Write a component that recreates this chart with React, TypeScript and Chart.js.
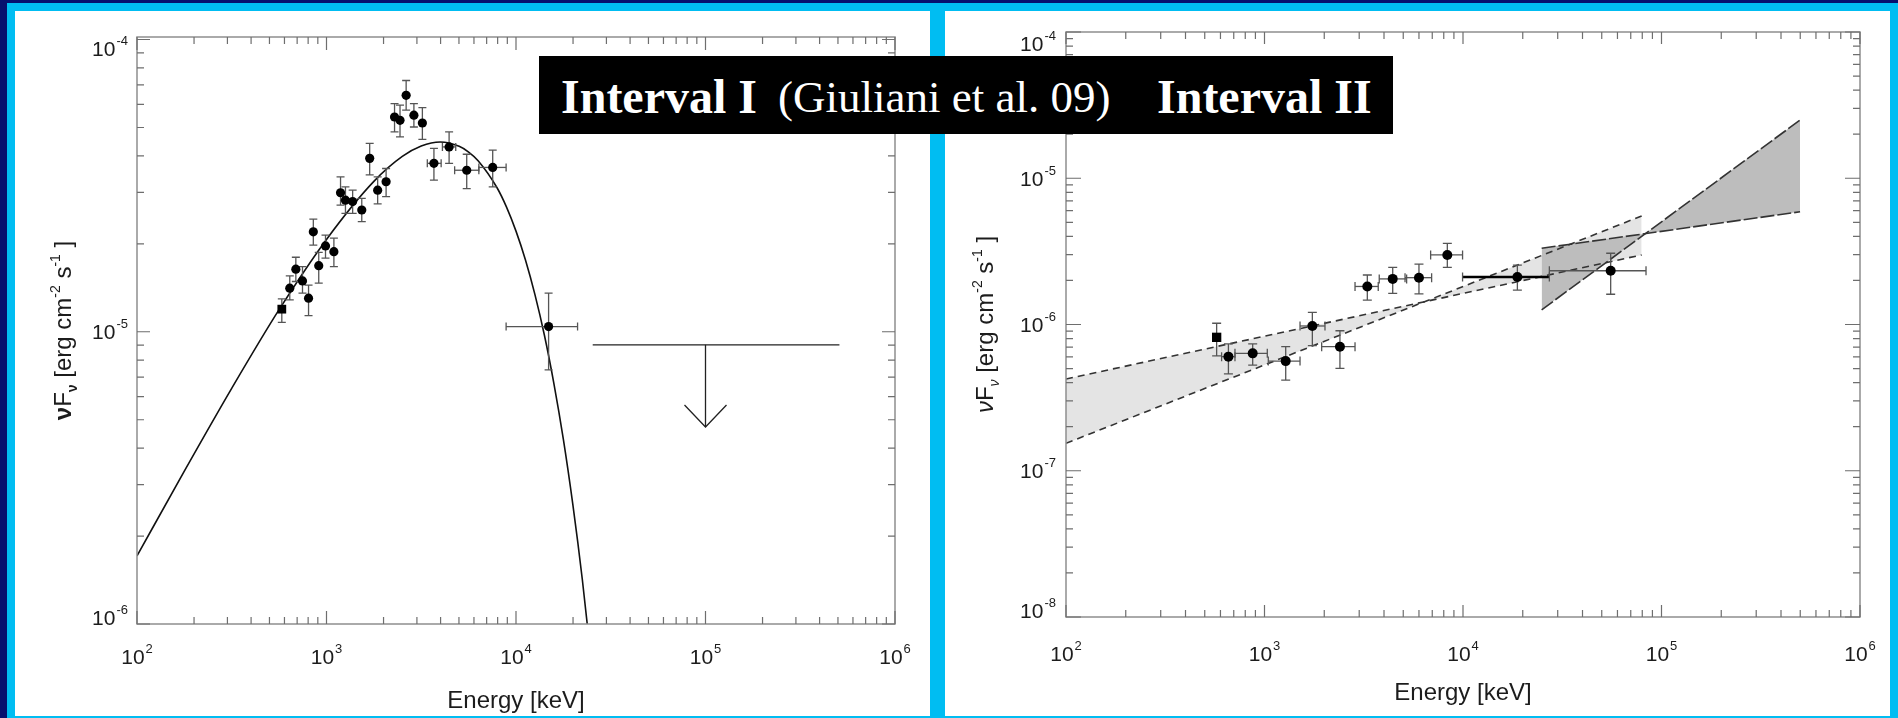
import React, { useEffect, useRef } from 'react';
import { Chart, registerables } from 'chart.js';

Chart.register(...registerables);

// ---------------- Interval I (left panel) ----------------
const leftEnergy = [581, 640, 689, 747, 804, 852, 910, 988, 1094, 1186, 1259, 1374, 1535, 1690, 1862, 2063, 2286, 2443, 2632, 2892, 3206, 3689, 4436, 5495, 7535, 14860];
const leftFlux = [1.195e-5, 1.41e-5, 1.637e-5, 1.493e-5, 1.303e-5, 2.198e-5, 1.683e-5, 1.966e-5, 1.879e-5, 2.99e-5, 2.82e-5, 2.79e-5, 2.61e-5, 3.92e-5, 3.05e-5, 3.26e-5, 5.43e-5, 5.29e-5, 6.44e-5, 5.51e-5, 5.18e-5, 3.77e-5, 4.29e-5, 3.57e-5, 3.65e-5, 1.042e-5];
const leftFluxHi = [1.296e-5, 1.553e-5, 1.799e-5, 1.671e-5, 1.445e-5, 2.43e-5, 1.87e-5, 2.14e-5, 2.09e-5, 3.39e-5, 3.13e-5, 3.05e-5, 2.86e-5, 4.41e-5, 3.39e-5, 3.62e-5, 6.03e-5, 5.96e-5, 7.24e-5, 6.03e-5, 5.85e-5, 4.24e-5, 4.83e-5, 4.05e-5, 4.18e-5, 1.355e-5];
const leftFluxLo = [1.076e-5, 1.286e-5, 1.486e-5, 1.355e-5, 1.135e-5, 1.98e-5, 1.466e-5, 1.787e-5, 1.671e-5, 2.71e-5, 2.54e-5, 2.54e-5, 2.38e-5, 3.44e-5, 2.74e-5, 2.9e-5, 4.83e-5, 4.64e-5, 5.73e-5, 5.02e-5, 4.55e-5, 3.3e-5, 3.77e-5, 3.09e-5, 3.13e-5, 7.41e-6];
const leftEnergyLo = [null, null, null, null, null, null, null, null, null, null, null, null, null, null, null, null, null, null, null, null, null, 3404, 4090, 4745, 6368, 8868];
const leftEnergyHi = [null, null, null, null, null, null, null, null, null, null, null, null, null, null, null, null, null, null, null, null, null, 4027, 4808, 6368, 8868, 21130];

// fitted model curve
const modelEnergy = [100, 178, 316, 562, 1000, 1778, 2512, 3162, 3981, 5012, 5623, 6310, 7943, 8913, 10000, 11220, 12589, 14125, 15849, 17783, 19953, 22387, 25119];
const modelFlux = [1.71e-6, 3.34e-6, 6.4e-6, 1.19e-5, 2.07e-5, 3.27e-5, 3.98e-5, 4.32e-5, 4.46e-5, 4.31e-5, 4.12e-5, 3.85e-5, 3.11e-5, 2.67e-5, 2.21e-5, 1.76e-5, 1.34e-5, 9.73e-6, 6.65e-6, 4.28e-6, 2.56e-6, 1.42e-6, 7.18e-7];

// upper limit
const ulEnergy = [25400, 509000];
const ulFlux = [9.02e-6, 9.02e-6];
const arrowEnergy = [1e5, 1e5];
const arrowFlux = [9.02e-6, 4.72e-6];

// ---------------- Interval II (right panel) ----------------
const rightEnergy = [574, 658, 872, 1279, 1742, 2399, 3296, 4425, 6000, 8337, 18790, 55460];
const rightFlux = [8.17e-7, 6.03e-7, 6.35e-7, 5.62e-7, 9.77e-7, 7.05e-7, 1.82e-6, 2.05e-6, 2.09e-6, 2.99e-6, 2.11e-6, 2.33e-6];
const rightFluxHi = [1.02e-6, 7.36e-7, 7.36e-7, 7.05e-7, 1.21e-6, 9.06e-7, 2.18e-6, 2.46e-6, 2.59e-6, 3.59e-6, 2.55e-6, 3.07e-6];
const rightFluxLo = [6.1e-7, 4.59e-7, 5.28e-7, 4.17e-7, 7.16e-7, 5.01e-7, 1.47e-6, 1.63e-6, 1.62e-6, 2.46e-6, 1.72e-6, 1.61e-6];
const rightEnergyLo = [null, 608, 710, 1045, 1510, 1941, 2858, 3785, 5105, 6870, 9950, 27230];
const rightEnergyHi = [null, 710, 1033, 1510, 2017, 2858, 3741, 5200, 6950, 9950, 27230, 83560];

// butterfly (bow-tie) envelopes
const lightEnergy = [100, 79430];
const lightFluxA = [4.24e-7, 2.99e-6];
const lightFluxB = [1.54e-7, 5.52e-6];
const darkEnergy = [24900, 499000];
const darkFluxC = [1.26e-6, 2.5e-5];
const darkFluxD = [3.32e-6, 5.9e-6];

// ---------------- axes ----------------
const xTickValues = [1e2, 1e3, 1e4, 1e5, 1e6];
const xTickExps = ['2', '3', '4', '5', '6'];
const leftYTickValues = [1e-6, 1e-5, 1e-4];
const leftYTickExps = ['-6', '-5', '-4'];
const rightYTickValues = [1e-8, 1e-7, 1e-6, 1e-5, 1e-4];
const rightYTickExps = ['-8', '-7', '-6', '-5', '-4'];
const xAxisTitle = 'Energy [keV]';

const SANS = '"Liberation Sans", Arial, Helvetica, sans-serif';

function minorTicks(lo: number, hi: number) {
  const out: number[] = [];
  for (let d = lo; d < hi; d++) for (let m = 2; m <= 9; m++) out.push(m * Math.pow(10, d));
  return out;
}

function pts(xs: number[], ys: number[]) {
  return xs.map((x, i) => ({ x, y: ys[i] }));
}

function drawPow(ctx: any, exp: string, x: number, y: number, anchor: string, size: number, esize: number) {
  ctx.font = `${size}px ${SANS}`;
  const wb = ctx.measureText('10').width;
  ctx.font = `${esize}px ${SANS}`;
  const we = ctx.measureText(exp).width;
  const total = wb + we + 1;
  const left = anchor === 'center' ? x - total / 2 : x - total;
  ctx.textAlign = 'left';
  ctx.textBaseline = 'alphabetic';
  ctx.font = `${size}px ${SANS}`;
  ctx.fillText('10', left, y);
  ctx.font = `${esize}px ${SANS}`;
  ctx.fillText(exp, left + wb + 1, y - size * 0.52);
}

function drawRich(ctx: any, pieces: any[], size: number, small: number) {
  const fontOf = (p: any) => `${p.style === 'bold' ? 'bold ' : p.style === 'italic' ? 'italic ' : ''}${p.shift ? small : size}px ${SANS}`;
  let total = 0;
  const widths = pieces.map((p) => {
    ctx.font = fontOf(p);
    const w = ctx.measureText(p.text).width;
    total += w;
    return w;
  });
  let x = -total / 2;
  const base = size * 0.36;
  ctx.textAlign = 'left';
  ctx.textBaseline = 'alphabetic';
  pieces.forEach((p, i) => {
    ctx.font = fontOf(p);
    const dy = p.shift === 'sup' ? -size * 0.45 : p.shift === 'sub' ? size * 0.25 : 0;
    ctx.fillText(p.text, x, base + dy);
    x += widths[i];
  });
}

function makeDecor(spec: any) {
  return {
    id: 'decor',
    beforeDatasetDraw(chart: any, args: any) {
      if (args.index !== spec.pointsIndex) return;
      const { ctx, chartArea: a } = chart;
      const xs = chart.scales.x;
      const ys = chart.scales.y;
      const c = spec.capHalf;
      ctx.save();
      ctx.beginPath();
      ctx.rect(a.left, a.top, a.right - a.left, a.bottom - a.top);
      ctx.clip();
      for (let i = 0; i < spec.energy.length; i++) {
        const px = xs.getPixelForValue(spec.energy[i]);
        const py = ys.getPixelForValue(spec.flux[i]);
        const yh = ys.getPixelForValue(spec.fluxHi[i]);
        const yl = ys.getPixelForValue(spec.fluxLo[i]);
        ctx.strokeStyle = spec.errColor;
        ctx.lineWidth = spec.errWidth;
        ctx.beginPath();
        ctx.moveTo(px, yh); ctx.lineTo(px, yl);
        ctx.moveTo(px - c, yh); ctx.lineTo(px + c, yh);
        ctx.moveTo(px - c, yl); ctx.lineTo(px + c, yl);
        ctx.stroke();
        const el = spec.eLo[i];
        const eh = spec.eHi[i];
        if (el != null && eh != null) {
          const xl = xs.getPixelForValue(el);
          const xh = xs.getPixelForValue(eh);
          const bold = i === spec.boldXErr;
          ctx.strokeStyle = bold ? '#000' : spec.errColor;
          ctx.lineWidth = bold ? 2.4 : spec.errWidth;
          ctx.beginPath();
          ctx.moveTo(xl, py); ctx.lineTo(xh, py);
          ctx.stroke();
          ctx.strokeStyle = spec.errColor;
          ctx.lineWidth = spec.errWidth;
          ctx.beginPath();
          ctx.moveTo(xl, py - c); ctx.lineTo(xl, py + c);
          ctx.moveTo(xh, py - c); ctx.lineTo(xh, py + c);
          ctx.stroke();
        }
      }
      ctx.restore();
    },
    afterDatasetsDraw(chart: any) {
      if (!spec.arrow) return;
      const { ctx } = chart;
      const tx = chart.scales.x.getPixelForValue(spec.arrow.e);
      const ty = chart.scales.y.getPixelForValue(spec.arrow.f);
      ctx.save();
      ctx.strokeStyle = '#222';
      ctx.lineWidth = 1.3;
      ctx.beginPath();
      ctx.moveTo(tx - 21, ty - 22); ctx.lineTo(tx, ty); ctx.lineTo(tx + 21, ty - 22);
      ctx.stroke();
      ctx.restore();
    },
    afterDraw(chart: any) {
      const { ctx, chartArea: a } = chart;
      const xs = chart.scales.x;
      const ys = chart.scales.y;
      ctx.save();
      // frame
      ctx.strokeStyle = '#8e8e8e';
      ctx.lineWidth = 1.5;
      ctx.strokeRect(a.left, a.top, a.right - a.left, a.bottom - a.top);
      // ticks
      ctx.strokeStyle = '#6e6e6e';
      ctx.lineWidth = 1.2;
      ctx.beginPath();
      const xt = (v: number, len: number) => {
        const px = xs.getPixelForValue(v);
        if (px < a.left - 0.5 || px > a.right + 0.5) return;
        ctx.moveTo(px, a.bottom); ctx.lineTo(px, a.bottom - len);
        ctx.moveTo(px, a.top); ctx.lineTo(px, a.top + len);
      };
      const yt = (v: number, len: number) => {
        const py = ys.getPixelForValue(v);
        if (py < a.top - 0.5 || py > a.bottom + 0.5) return;
        ctx.moveTo(a.left, py); ctx.lineTo(a.left + len, py);
        ctx.moveTo(a.right, py); ctx.lineTo(a.right - len, py);
      };
      xTickValues.forEach((v) => xt(v, spec.xMajor));
      minorTicks(2, 6).forEach((v) => xt(v, spec.xMinor));
      spec.yTickValues.forEach((v: number) => yt(v, spec.yMajor));
      minorTicks(spec.yDecLo, spec.yDecHi).forEach((v) => yt(v, spec.yMinor));
      ctx.stroke();
      // tick labels
      ctx.fillStyle = '#1c1c1c';
      const ts = spec.tickSize;
      const es = spec.expSize;
      xTickValues.forEach((v, i) => {
        drawPow(ctx, xTickExps[i], xs.getPixelForValue(v), a.bottom + spec.xLabelOffset, 'center', ts, es);
      });
      spec.yTickValues.forEach((v: number, i: number) => {
        const py = ys.getPixelForValue(v);
        let base = py + ts * 0.36;
        const topNeed = a.top - 1 + ts * 0.52 + es * 0.72;
        if (base < topNeed) base = topNeed;
        if (base > a.bottom + 1) base = a.bottom + 1;
        drawPow(ctx, spec.yTickExps[i], a.left - spec.yLabelGap, base, 'right', ts, es);
      });
      // x title
      ctx.save();
      ctx.translate((a.left + a.right) / 2, a.bottom + spec.xTitleOffset);
      drawRich(ctx, [{ text: xAxisTitle }], spec.titleSize, 14);
      ctx.restore();
      // y title
      ctx.save();
      ctx.translate(a.left - spec.yTitleOffset, (a.top + a.bottom) / 2);
      ctx.rotate(-Math.PI / 2);
      drawRich(
        ctx,
        [
          { text: 'ν', style: spec.nuStyle },
          { text: 'F' },
          { text: 'ν', style: spec.nuStyle, shift: 'sub' },
          { text: ' [erg cm' },
          { text: '-2', shift: 'sup' },
          { text: ' s' },
          { text: '-1', shift: 'sup' },
          { text: ' ]' },
        ],
        spec.titleSize,
        14
      );
      ctx.restore();
      ctx.restore();
    },
  };
}

function baseOptions(pad: any, yMin: number, yMax: number) {
  return {
    responsive: false,
    maintainAspectRatio: false,
    animation: false,
    events: [],
    layout: { padding: pad },
    plugins: {
      legend: { display: false },
      tooltip: { enabled: false },
      filler: { drawTime: 'beforeDatasetsDraw' },
    },
    scales: {
      x: { type: 'logarithmic', min: 1e2, max: 1e6, display: false },
      y: { type: 'logarithmic', min: yMin, max: yMax, display: false },
    },
  };
}

function leftConfig(): any {
  return {
    type: 'line',
    data: {
      datasets: [
        { data: pts(modelEnergy, modelFlux), borderColor: '#111', borderWidth: 1.6, pointRadius: 0, cubicInterpolationMode: 'monotone', fill: false, order: 2 },
        { data: pts(ulEnergy, ulFlux), borderColor: '#222', borderWidth: 1.4, pointRadius: 0, fill: false, order: 2 },
        { data: pts(arrowEnergy, arrowFlux), borderColor: '#222', borderWidth: 1.3, pointRadius: 0, fill: false, order: 2 },
        {
          data: pts(leftEnergy, leftFlux),
          showLine: false,
          pointRadius: leftEnergy.map((_, i) => (i === 0 ? 6.2 : 4.6)),
          pointStyle: leftEnergy.map((_, i) => (i === 0 ? 'rect' : 'circle')),
          pointBackgroundColor: '#000',
          pointBorderColor: '#000',
          pointBorderWidth: 0,
          order: 0,
        },
      ],
    },
    options: baseOptions({ left: 122, top: 26, right: 35, bottom: 92 }, 1e-6, 1.02e-4),
    plugins: [
      makeDecor({
        pointsIndex: 3,
        energy: leftEnergy, flux: leftFlux, fluxHi: leftFluxHi, fluxLo: leftFluxLo, eLo: leftEnergyLo, eHi: leftEnergyHi,
        capHalf: 4, errColor: '#555', errWidth: 1.3, boldXErr: -1,
        arrow: { e: arrowEnergy[1], f: arrowFlux[1] },
        yTickValues: leftYTickValues, yTickExps: leftYTickExps, yDecLo: -6, yDecHi: -4,
        xMajor: 13, xMinor: 7, yMajor: 13, yMinor: 7,
        tickSize: 21, expSize: 13, xLabelOffset: 40, yLabelGap: 9,
        titleSize: 24, xTitleOffset: 75, yTitleOffset: 75, nuStyle: 'bold',
      }),
    ],
  };
}

function rightConfig(): any {
  return {
    type: 'line',
    data: {
      datasets: [
        { data: pts(lightEnergy, lightFluxA), fill: '+1', backgroundColor: '#e4e4e4', borderColor: '#333', borderWidth: 1.6, borderDash: [7, 5], pointRadius: 0, order: 4 },
        { data: pts(lightEnergy, lightFluxB), fill: false, borderColor: '#333', borderWidth: 1.6, borderDash: [7, 5], pointRadius: 0, order: 4 },
        { data: pts(darkEnergy, darkFluxC), fill: '+1', backgroundColor: '#bdbdbd', borderColor: '#333', borderWidth: 1.6, borderDash: [14, 3], pointRadius: 0, order: 3 },
        { data: pts(darkEnergy, darkFluxD), fill: false, borderColor: '#333', borderWidth: 1.6, borderDash: [14, 3], pointRadius: 0, order: 3 },
        {
          data: pts(rightEnergy, rightFlux),
          showLine: false,
          pointRadius: rightEnergy.map((_, i) => (i === 0 ? 6.6 : 5)),
          pointStyle: rightEnergy.map((_, i) => (i === 0 ? 'rect' : 'circle')),
          pointBackgroundColor: '#000',
          pointBorderColor: '#000',
          pointBorderWidth: 0,
          order: 0,
        },
      ],
    },
    options: baseOptions({ left: 121, top: 21, right: 30, bottom: 99 }, 1e-8, 1e-4),
    plugins: [
      makeDecor({
        pointsIndex: 4,
        energy: rightEnergy, flux: rightFlux, fluxHi: rightFluxHi, fluxLo: rightFluxLo, eLo: rightEnergyLo, eHi: rightEnergyHi,
        capHalf: 4.5, errColor: '#555', errWidth: 1.3, boldXErr: 10,
        yTickValues: rightYTickValues, yTickExps: rightYTickExps, yDecLo: -8, yDecHi: -4,
        xMajor: 12, xMinor: 7, yMajor: 15, yMinor: 7,
        tickSize: 21, expSize: 13, xLabelOffset: 44, yLabelGap: 10,
        titleSize: 24, xTitleOffset: 74, yTitleOffset: 82, nuStyle: 'italic',
      }),
    ],
  };
}

export default function App() {
  const leftRef = useRef<HTMLCanvasElement | null>(null);
  const rightRef = useRef<HTMLCanvasElement | null>(null);

  useEffect(() => {
    document.body.style.margin = '0';
    const c1 = new Chart(leftRef.current as any, leftConfig());
    const c2 = new Chart(rightRef.current as any, rightConfig());
    return () => {
      c1.destroy();
      c2.destroy();
    };
  }, []);

  const serif = '"Liberation Serif", "Times New Roman", Times, serif';
  const abs = (l: number, t: number, w: number, h: number, bg: string): any => ({ position: 'absolute', left: l, top: t, width: w, height: h, background: bg });

  return (
    <div style={{ position: 'absolute', left: 0, top: 0, width: 1898, height: 718, background: '#00bdf2', overflow: 'hidden' }}>
      <div style={abs(0, 0, 1898, 3, '#06106e')} />
      <div style={abs(0, 0, 7, 718, '#06106e')} />
      <div style={abs(15, 11, 915, 705, '#ffffff')} />
      <div style={abs(945, 11, 945, 705, '#ffffff')} />
      <canvas ref={leftRef} width={915} height={705} style={{ position: 'absolute', left: 15, top: 11, width: 915, height: 705 }} />
      <canvas ref={rightRef} width={945} height={705} style={{ position: 'absolute', left: 945, top: 11, width: 945, height: 705 }} />
      <div style={abs(539, 56, 854, 78, '#000000')} />
      <div style={{ position: 'absolute', left: 561, top: 73, fontFamily: serif, fontSize: 48, lineHeight: '48px', fontWeight: 'bold', color: '#fff', whiteSpace: 'nowrap' }}>Interval I</div>
      <div style={{ position: 'absolute', left: 778, top: 75, fontFamily: serif, fontSize: 45, lineHeight: '45px', color: '#fff', whiteSpace: 'nowrap' }}>(Giuliani et al. 09)</div>
      <div style={{ position: 'absolute', left: 1157, top: 73, fontFamily: serif, fontSize: 48, lineHeight: '48px', fontWeight: 'bold', color: '#fff', whiteSpace: 'nowrap' }}>Interval II</div>
    </div>
  );
}
